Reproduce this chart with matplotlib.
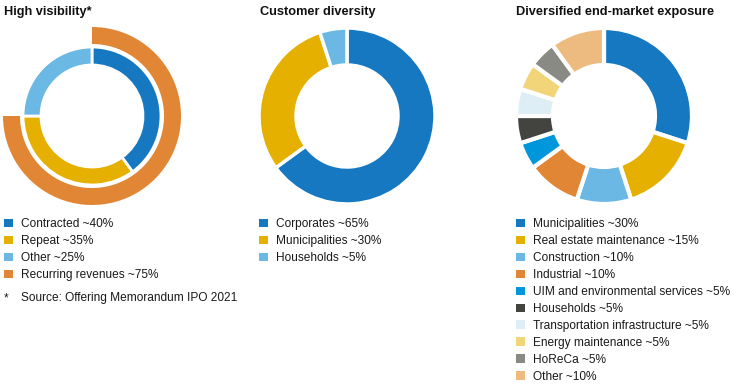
import matplotlib
matplotlib.use("Agg")
import matplotlib.pyplot as plt
from matplotlib.patches import Rectangle

W, H = 745, 390

# ---- data ----
titles = ["High visibility*", "Customer diversity", "Diversified end-market exposure"]

vis_labels = ["Contracted ~40%", "Repeat ~35%", "Other ~25%"]
vis_values = [40, 35, 25]
vis_colors = ["#1778c2", "#e6b000", "#6cb8e4"]
rec_label = "Recurring revenues ~75%"
rec_values = [75, 25]
rec_color = "#e08634"
footnote = "Source: Offering Memorandum IPO 2021"

cust_labels = ["Corporates ~65%", "Municipalities ~30%", "Households ~5%"]
cust_values = [65, 30, 5]
cust_colors = ["#1778c2", "#e6b000", "#6cb8e4"]

mkt_labels = ["Municipalities ~30%", "Real estate maintenance ~15%", "Construction ~10%",
              "Industrial ~10%", "UIM and environmental services ~5%", "Households ~5%",
              "Transportation infrastructure ~5%", "Energy maintenance ~5%", "HoReCa ~5%",
              "Other ~10%"]
mkt_values = [30, 15, 10, 10, 5, 5, 5, 5, 5, 10]
mkt_colors = ["#1778c2", "#e6b000", "#6cb8e4", "#e08634", "#0096dc", "#43443f",
              "#deeef7", "#f2d479", "#898a84", "#edbb80"]

plt.rcParams['font.family'] = ['Liberation Sans', 'DejaVu Sans']

fig = plt.figure(figsize=(W / 100, H / 100), dpi=100)


def pie_axes(cx, cy, R):
    ax = fig.add_axes([(cx - R) / W, 1 - (cy + R) / H, 2 * R / W, 2 * R / H])
    ax.set_xlim(-1, 1)
    ax.set_ylim(-1, 1)
    ax.set_aspect('equal')
    ax.axis('off')
    return ax


def ftext(x, y, s, **kw):
    fig.text(x / W, 1 - y / H, s, va='baseline', ha='left', **kw)


def square(x, y, color, s=8.5):
    fig.add_artist(Rectangle((x / W, 1 - (y + s / 2) / H), s / W, s / H,
                             transform=fig.transFigure, facecolor=color, edgecolor='none'))


# ---- chart 1 ----
R1 = 89
ax1 = pie_axes(92, 116, R1)
ax1.pie(rec_values, radius=1, colors=[rec_color, 'none'], startangle=90, counterclock=False,
        wedgeprops=dict(width=17 / R1, edgecolor='none'))
ax1.pie(vis_values, radius=69 / R1, colors=vis_colors, startangle=90, counterclock=False,
        wedgeprops=dict(width=18 / R1, edgecolor='white', linewidth=2))
ax1.set_xlim(-1, 1); ax1.set_ylim(-1, 1)

# ---- chart 2 ----
R2 = 88
ax2 = pie_axes(347, 116, R2)
ax2.pie(cust_values, radius=1, colors=cust_colors, startangle=90, counterclock=False,
        wedgeprops=dict(width=37 / R2, edgecolor='white', linewidth=2.5))
ax2.set_xlim(-1, 1); ax2.set_ylim(-1, 1)

# ---- chart 3 ----
R3 = 88
ax3 = pie_axes(604, 116, R3)
ax3.pie(mkt_values, radius=1, colors=mkt_colors, startangle=90, counterclock=False,
        wedgeprops=dict(width=37 / R3, edgecolor='white', linewidth=3))
ax3.set_xlim(-1, 1); ax3.set_ylim(-1, 1)

# ---- titles ----
tkw = dict(fontsize=9.2, fontweight='bold', color='#111111')
ftext(4, 15.5, titles[0], **tkw)
ftext(260, 15.5, titles[1], **tkw)
ftext(516, 15.5, titles[2], **tkw)

# ---- legends ----
lkw = dict(fontsize=8.6, color='#1a1a1a')
row0, dy = 223, 16.95
for i, (lab, col) in enumerate(zip(vis_labels + [rec_label], vis_colors + [rec_color])):
    y = row0 + i * dy
    square(4, y, col)
    ftext(21, y + 4.2, lab, **lkw)
ftext(4, 301, "*", **lkw)
ftext(21, 301.5, footnote, **lkw)

for i, (lab, col) in enumerate(zip(cust_labels, cust_colors)):
    y = row0 + i * dy
    square(259, y, col)
    ftext(276, y + 4.2, lab, **lkw)

for i, (lab, col) in enumerate(zip(mkt_labels, mkt_colors)):
    y = row0 + i * dy
    square(516, y, col)
    ftext(533, y + 4.2, lab, **lkw)

fig.savefig("out.png", dpi=100)
